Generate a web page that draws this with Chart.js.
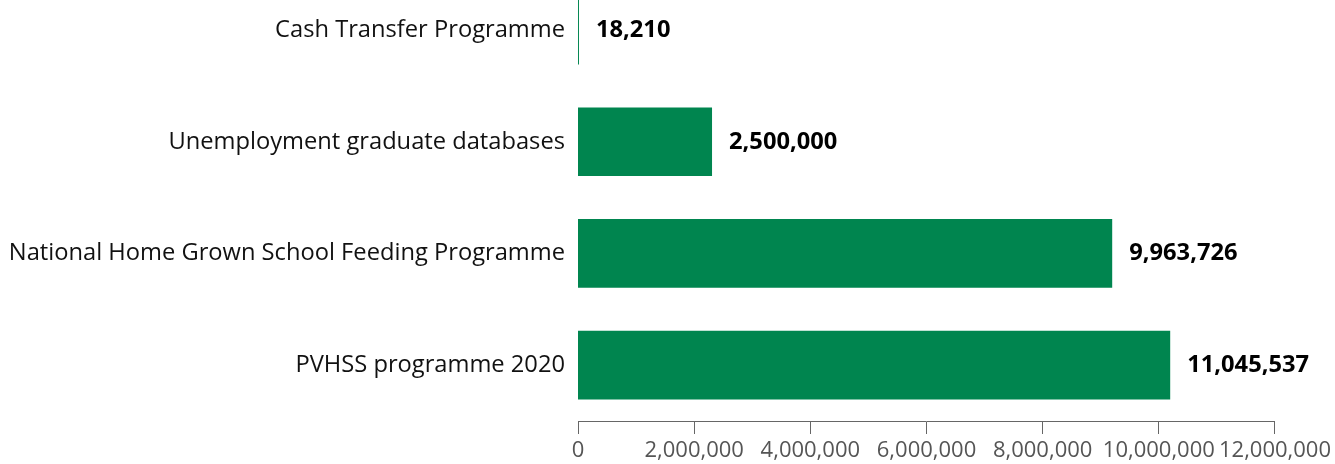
<!DOCTYPE html>
<html>
<head>
<meta charset="utf-8">
<script src="https://cdn.jsdelivr.net/npm/chart.js@4"></script>
<style>
  html, body { margin: 0; padding: 0; background: #fff; }
  #wrap { position: relative; width: 1335px; height: 464px; overflow: hidden; }
  #holder { position: absolute; left: 0; top: -53px; width: 1335px; height: 517px; }
</style>
</head>
<body>
<div id="wrap"><div id="holder"><canvas id="chart"></canvas></div></div>
<script>
const programmes = [
    'Cash Transfer Programme',
    'Unemployment graduate databases',
    'National Home Grown School Feeding Programme',
    'PVHSS programme 2020'
];
const beneficiaries = [18210, 2500000, 9963726, 11045537];
const axisTicks = [0, 2000000, 4000000, 6000000, 8000000, 10000000, 12000000];

const valueLabels = {
    id: 'valueLabels',
    afterDatasetsDraw(chart) {
        const ctx = chart.ctx;
        const meta = chart.getDatasetMeta(0);
        ctx.save();
        ctx.font = 'bold 23.7px "Open Sans"';
        ctx.fillStyle = '#000';
        ctx.textAlign = 'left';
        ctx.textBaseline = 'middle';
        meta.data.forEach((bar, i) => {
            ctx.fillText(beneficiaries[i].toLocaleString('en-US'), bar.x + 17, bar.y);
        });
        ctx.restore();
    }
};

const ctx = document.getElementById('chart').getContext('2d');
new Chart(ctx, {
    type: 'bar',
    data: {
        labels: programmes,
        datasets: [{
            data: beneficiaries,
            backgroundColor: '#00854f',
            barPercentage: 0.615,
            categoryPercentage: 1,
            xAxisID: 'x'
        }]
    },
    plugins: [valueLabels],
    options: {
        indexAxis: 'y',
        responsive: true,
        maintainAspectRatio: false,
        animation: false,
        layout: { padding: 0 },
        plugins: {
            legend: { display: false },
            tooltip: { enabled: false }
        },
        scales: {
            x: {
                display: false,
                min: 0,
                max: 13000000
            },
            x2: {
                type: 'linear',
                position: 'bottom',
                min: 0,
                max: 12000000,
                afterBuildTicks: scale => { scale.ticks = axisTicks.map(v => ({ value: v })); },
                afterFit: scale => { scale.height = 43; },
                grid: { drawOnChartArea: false, tickLength: 13, color: '#666' },
                border: { color: '#666' },
                ticks: {
                    padding: 4,
                    color: '#555',
                    font: { family: 'Open Sans', size: 22 },
                    maxRotation: 0,
                    autoSkip: false,
                    callback: v => v.toLocaleString('en-US')
                }
            },
            y: {
                afterFit: scale => { scale.width = 578; },
                grid: { display: false, drawTicks: false, tickLength: 0 },
                border: { display: false },
                ticks: {
                    padding: 13,
                    color: '#111',
                    font: { family: 'Open Sans', size: 23.7 }
                }
            }
        }
    }
});
</script>
</body>
</html>
